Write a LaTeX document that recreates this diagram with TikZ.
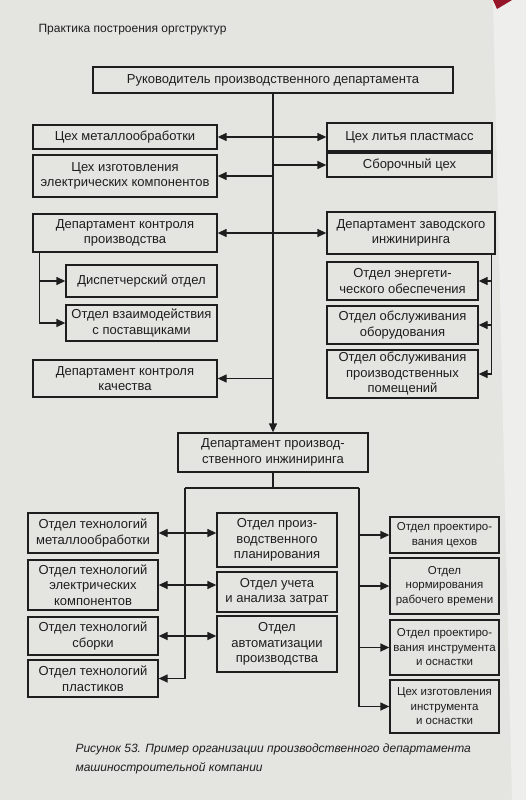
\documentclass[tikz,border=0pt]{standalone}
\usepackage{fontspec}
\setmainfont{Liberation Sans}
\usetikzlibrary{arrows.meta}
\definecolor{pagebg}{RGB}{228,228,225}
\definecolor{edgebg}{RGB}{238,238,236}
\definecolor{ink}{RGB}{30,30,30}
\definecolor{ribbon}{RGB}{150,20,40}
\newcommand\bx[7][]{\node[box,#1,minimum width={(#5-#3)*1pt},minimum height={(#6-#4)*1pt}] (#2) at ({(#3+#5)/2},{(#4+#6)/2}) {#7};}
\begin{document}
\begin{tikzpicture}[x=1pt,y=-1pt,
  box/.style={draw=ink,line width=1.3pt,align=center,inner sep=0pt,text=ink,font=\fontsize{13}{15.5}\selectfont},
  small/.style={font=\fontsize{11.5}{14.5}\selectfont},
  conn/.style={draw=ink,line width=1.3pt},
  arr/.style={conn,-{Triangle[length=9pt,width=8pt]}},
  dbl/.style={conn,{Triangle[length=9pt,width=8pt]}-{Triangle[length=9pt,width=8pt]}}]
\fill[pagebg] (0,0) rectangle (526,800);
\fill[edgebg] (493,0) -- (526,0) -- (526,800) -- (512,800) -- cycle;
\fill[ribbon] (493,0) -- (512,0) -- (497,9) -- cycle;
\useasboundingbox (0,0) rectangle (526,800);
\node[anchor=west,text=ink,font=\fontsize{12}{14}\selectfont] (hdr) at (35,30) {Практика построения оргструктур};
% top part
\bx{top}{93}{67}{453}{93}{Руководитель производственного департамента}
\bx{ceh1}{33}{125}{217}{149}{Цех металлообработки}
\bx{ceh2}{33}{155}{217}{197}{Цех изготовления\\электрических компонентов}
\bx{lit}{327}{123}{492}{151}{Цех литья пластмасс}
\bx{sbor}{327}{153}{492}{177}{Сборочный цех}
\bx{kp}{33}{214}{217}{252}{Департамент контроля\\производства}
\bx{disp}{66}{265}{217}{297}{Диспетчерский отдел}
\bx{vz}{66}{305}{217}{341}{Отдел взаимодействия\\с поставщиками}
\bx{kach}{33}{360}{217}{397}{Департамент контроля\\качества}
\bx{zav}{327}{212}{495}{254}{Департамент заводского\\инжиниринга}
\bx{en}{327}{262}{478}{300}{Отдел энергети-\\ческого обеспечения}
\bx{obo}{327}{306}{478}{344}{Отдел обслуживания\\оборудования}
\bx{pom}{327}{350}{478}{398}{Отдел обслуживания\\производственных\\помещений}
% bottom part
\bx{pe}{178}{433}{368}{472}{Департамент производ-\\ственного инжиниринга}
\bx{tm}{28}{513}{158}{553}{Отдел технологий\\металлообработки}
\bx{te}{28}{560}{158}{610}{Отдел технологий\\электрических\\компонентов}
\bx{ts}{28}{617}{158}{655}{Отдел технологий\\сборки}
\bx{tp}{28}{660}{158}{697}{Отдел технологий\\пластиков}
\bx{pp}{217}{513}{337}{567}{Отдел произ-\\водственного\\планирования}
\bx{ua}{217}{572}{337}{612}{Отдел учета\\и анализа затрат}
\bx{ap}{217}{616}{337}{672}{Отдел\\автоматизации\\производства}
\bx[small]{pc}{390}{517}{499}{553}{Отдел проектиро-\\вания цехов}
\bx[small]{nr}{390}{558}{499}{614}{Отдел\\нормирования\\рабочего времени}
\bx[small]{pi}{390}{620}{499}{675}{Отдел проектиро-\\вания инструмента\\и оснастки}
\bx[small]{ci}{390}{680}{499}{733}{Цех изготовления\\инструмента\\и оснастки}
% connectors, top part
\draw[arr] (top.south) -- (pe.north);
\draw[dbl] (ceh1.east) -- (ceh1.east -| lit.west);
\draw[arr] (sbor.west -| top.south) -- (sbor.west);
\draw[arr] (ceh2.east -| top.south) -- (ceh2.east);
\draw[dbl] (kp.east) -- (kp.east -| zav.west);
\draw[arr] (kach.east -| top.south) -- (kach.east);
\draw[arr] ([xshift=7pt]kp.south west) |- (disp.west);
\draw[arr] ([xshift=7pt]kp.south west) |- (vz.west);
\draw[arr] ([xshift=-4pt]zav.south east) |- (en.east);
\draw[arr] ([xshift=-4pt]zav.south east) |- (obo.east);
\draw[arr] ([xshift=-4pt]zav.south east) |- (pom.east);
% connectors, bottom part
\coordinate (bl) at (185,488);
\coordinate (br) at (359,488);
\draw[conn] (pe.south) -- (pe.south |- bl);
\draw[conn] (bl) -- (br);
\draw[arr] (bl) |- (tp.east);
\draw[arr] (br) |- (ci.west);
\draw[arr] (pc.west -| br) -- (pc.west);
\draw[arr] (nr.west -| br) -- (nr.west);
\draw[arr] (pi.west -| br) -- (pi.west);
\draw[dbl] (tm.east) -- (tm.east -| pp.west);
\draw[dbl] (te.east) -- (te.east -| ua.west);
\draw[dbl] (ts.east) -- (ts.east -| ap.west);
% caption
\node[anchor=north west,align=left,text=ink,font=\fontsize{12}{19}\selectfont\itshape] (cap) at (72,740) {Рисунок 53. Пример организации производственного департамента\\машиностроительной компании};
\end{tikzpicture}
\end{document}
